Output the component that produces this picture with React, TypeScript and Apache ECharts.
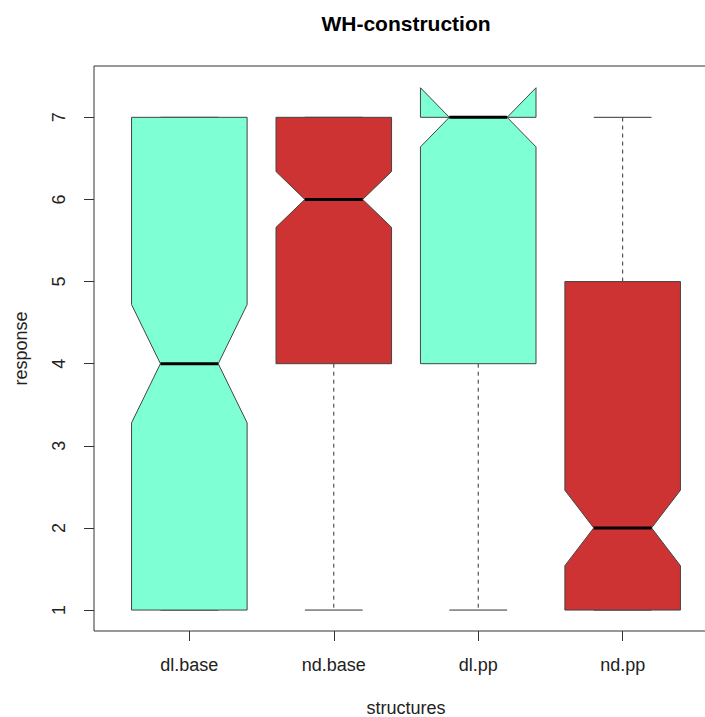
import React, { useEffect, useRef } from "react";
import * as echarts from "echarts";

const categories = ["dl.base", "nd.base", "dl.pp", "nd.pp"];
const whiskerLow = [1, 1, 1, 1];
const q1 = [1, 4, 4, 1];
const medians = [4, 6, 7, 2];
const q3 = [7, 7, 7, 5];
const whiskerHigh = [7, 7, 7, 7];
const notchLow = [3.28, 5.66, 6.64, 1.54];
const notchHigh = [4.72, 6.34, 7.36, 2.46];
const boxColors = ["#7FFFD4", "#CD3333", "#7FFFD4", "#CD3333"];
const yTicks = [1, 2, 3, 4, 5, 6, 7];
const xTicks = [1, 2, 3, 4];

const FONT = "'Liberation Sans', Arial, sans-serif";

export default function App() {
  const ref = useRef<HTMLDivElement>(null);
  useEffect(() => {
    document.body.style.margin = "0";
    const chart = echarts.init(ref.current!, null, { renderer: "svg" });
    const data = categories.map((_, i) => [
      i + 1,
      whiskerLow[i],
      q1[i],
      medians[i],
      q3[i],
      whiskerHigh[i],
      notchLow[i],
      notchHigh[i],
      i,
    ]);
    const stroke = "#333";
    chart.setOption({
      animation: false,
      textStyle: { fontFamily: FONT },
      grid: {
        left: 94,
        top: 66,
        width: 624,
        height: 565,
        show: true,
        borderColor: "#333",
        borderWidth: 1,
        backgroundColor: "transparent",
        containLabel: false,
        outerBoundsMode: "none",
      },
      graphic: [
        {
          type: "text",
          x: 406,
          y: 23,
          style: {
            text: "WH-construction",
            fontSize: 21,
            fontWeight: "bold",
            fontFamily: FONT,
            fill: "#000",
            textAlign: "center",
            textVerticalAlign: "middle",
          },
        },
      ],
      xAxis: {
        type: "value",
        min: 0.34,
        max: 4.66,
        splitLine: { show: false },
        axisLine: { show: false },
        axisTick: {
          show: true,
          customValues: xTicks,
          length: 10,
          lineStyle: { color: stroke },
        },
        axisLabel: {
          customValues: xTicks,
          formatter: (v: number) => categories[Math.round(v) - 1] ?? "",
          margin: 25,
          fontSize: 18,
          color: "#222",
          fontFamily: FONT,
        },
        name: "structures",
        nameLocation: "middle",
        nameGap: 68,
        nameTextStyle: { fontSize: 18, color: "#222", fontFamily: FONT },
      },
      yAxis: {
        type: "value",
        min: 0.745,
        max: 7.625,
        splitLine: { show: false },
        axisLine: { show: false },
        axisTick: {
          show: true,
          customValues: yTicks,
          length: 10,
          lineStyle: { color: stroke },
        },
        axisLabel: {
          customValues: yTicks,
          rotate: 90,
          margin: 26,
          fontSize: 18,
          color: "#222",
          fontFamily: FONT,
        },
        name: "response",
        nameLocation: "middle",
        nameGap: 64,
        nameTextStyle: { fontSize: 18, color: "#222", fontFamily: FONT },
      },
      series: [
        {
          type: "custom",
          data,
          encode: { x: 0, y: [1, 2, 3, 4, 5, 6, 7] },
          renderItem: (params: any, api: any) => {
            const x = api.value(0);
            const wl = api.value(1);
            const lo = api.value(2);
            const med = api.value(3);
            const hi = api.value(4);
            const wh = api.value(5);
            const nl = api.value(6);
            const nh = api.value(7);
            const ci = api.value(8);
            const cx = api.coord([x, med])[0];
            const yp = (v: number) => api.coord([x, v])[1];
            const hw = api.size([0.8, 0])[0] / 2;
            const dash = { stroke, lineWidth: 1, lineDash: [4, 4] };
            const solid = { stroke, lineWidth: 1 };
            return {
              type: "group",
              children: [
                { type: "line", shape: { x1: cx, y1: yp(hi), x2: cx, y2: yp(wh) }, style: dash },
                { type: "line", shape: { x1: cx, y1: yp(lo), x2: cx, y2: yp(wl) }, style: dash },
                { type: "line", shape: { x1: cx - hw / 2, y1: yp(wh), x2: cx + hw / 2, y2: yp(wh) }, style: solid },
                { type: "line", shape: { x1: cx - hw / 2, y1: yp(wl), x2: cx + hw / 2, y2: yp(wl) }, style: solid },
                {
                  type: "polygon",
                  shape: {
                    points: [
                      [cx - hw, yp(lo)],
                      [cx - hw, yp(nl)],
                      [cx - hw / 2, yp(med)],
                      [cx - hw, yp(nh)],
                      [cx - hw, yp(hi)],
                      [cx + hw, yp(hi)],
                      [cx + hw, yp(nh)],
                      [cx + hw / 2, yp(med)],
                      [cx + hw, yp(nl)],
                      [cx + hw, yp(lo)],
                    ],
                  },
                  style: { fill: boxColors[ci], stroke: "#444", lineWidth: 1 },
                },
                {
                  type: "line",
                  shape: { x1: cx - hw / 2, y1: yp(med), x2: cx + hw / 2, y2: yp(med) },
                  style: { stroke: "#000", lineWidth: 3 },
                },
              ],
            };
          },
        },
      ],
    });
    return () => chart.dispose();
  }, []);
  return <div ref={ref} style={{ width: 705, height: 717 }} />;
}
